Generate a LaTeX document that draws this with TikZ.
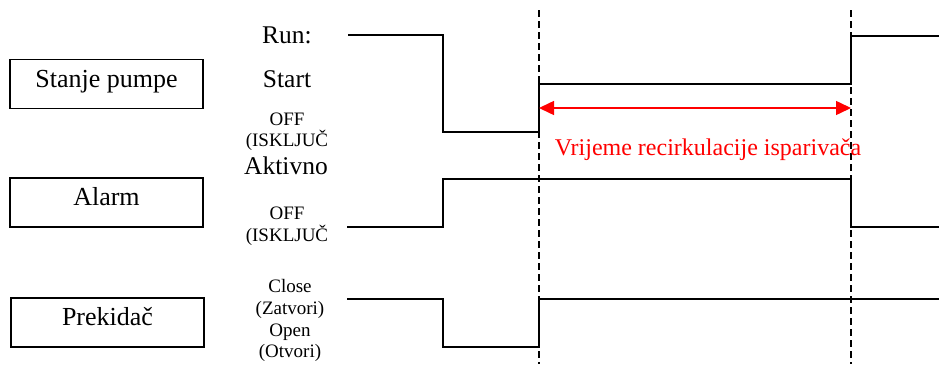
\documentclass[tikz,border=0pt]{standalone}
\usepackage{fontspec}
\setmainfont{Liberation Serif}
\usetikzlibrary{positioning}
\usetikzlibrary{calc}
\usetikzlibrary{arrows.meta}

\tikzset{
  namebox/.style={draw, line width=1.5pt, minimum width=193pt, minimum height=49pt,
    inner sep=0pt, text height=16pt, text depth=10pt, font=\fontsize{26}{30}\selectfont},
  levelbig/.style={anchor=base, inner sep=0pt, font=\fontsize{25.5}{30}\selectfont},
  levelsmall/.style={anchor=base, inner sep=0pt, font=\fontsize{19}{22}\selectfont},
  signal/.style={line width=1.5pt},
  marker/.style={line width=1.5pt, dash pattern=on 7pt off 4pt},
  timearrow/.style={red, line width=1.5pt, {Triangle[length=15pt,width=14pt]}-{Triangle[length=15pt,width=14pt]}}
}

\begin{document}
\begin{tikzpicture}[x=1pt, y=-1pt]

    \useasboundingbox (0, 0) rectangle (939, 364);

    % Names
    \node[namebox] (pump) at (106.5, 84) {Stanje pumpe};
    \node[namebox] (alarm) at (106.5, 202.5) {Alarm};
    \node[namebox] (switch) at (107.5, 322.5) {Prekidač};

    % Levels
    \node[levelbig] (run) at (287, 43) {Run:};
    \node[levelbig] (start) at (287, 87) {Start};
    \node[levelsmall] (pumpOff) at (287, 125) {OFF};
    \node[levelsmall] (pumpOffB) at (287, 146) {(ISKLJUČ};
    \node[levelbig] (active) at (286, 174) {Aktivno};
    \node[levelsmall] (alarmOff) at (287, 219) {OFF};
    \node[levelsmall] (alarmOffB) at (287, 241) {(ISKLJUČ};
    \node[levelsmall] (close) at (290, 292) {Close};
    \node[levelsmall] (closeB) at (290, 314) {(Zatvori)};
    \node[levelsmall] (open) at (290, 336) {Open};
    \node[levelsmall] (openB) at (290, 357) {(Otvori)};

    % Time marks
    \draw[marker] (539, 10) coordinate(tA) -- (539, 364);
    \draw[marker] (851, 10) coordinate(tB) -- (851, 364);

    % Pump state
    \draw[signal] (348, 35) -| (443, 132) -| (539, 84) -| (851, 36) -- (939, 36);

    % Alarm
    \draw[signal] (347, 227) -| (443, 179) -| (851, 227) -- (939, 227);

    % Flow switch
    \draw[signal] (347, 299) -| (443, 347) -| (539, 299) -- (939, 299);

    % Recirculation time
    \coordinate (a) at (tA |- 0, 108);
    \coordinate (b) at (tB |- 0, 108);
    \draw[timearrow] (a) -- (b);
    \node[anchor=base, inner sep=0pt, red, font=\fontsize{24}{28}\selectfont] (recLabel) at (708, 155) {Vrijeme recirkulacije isparivača};

\end{tikzpicture}
\end{document}
